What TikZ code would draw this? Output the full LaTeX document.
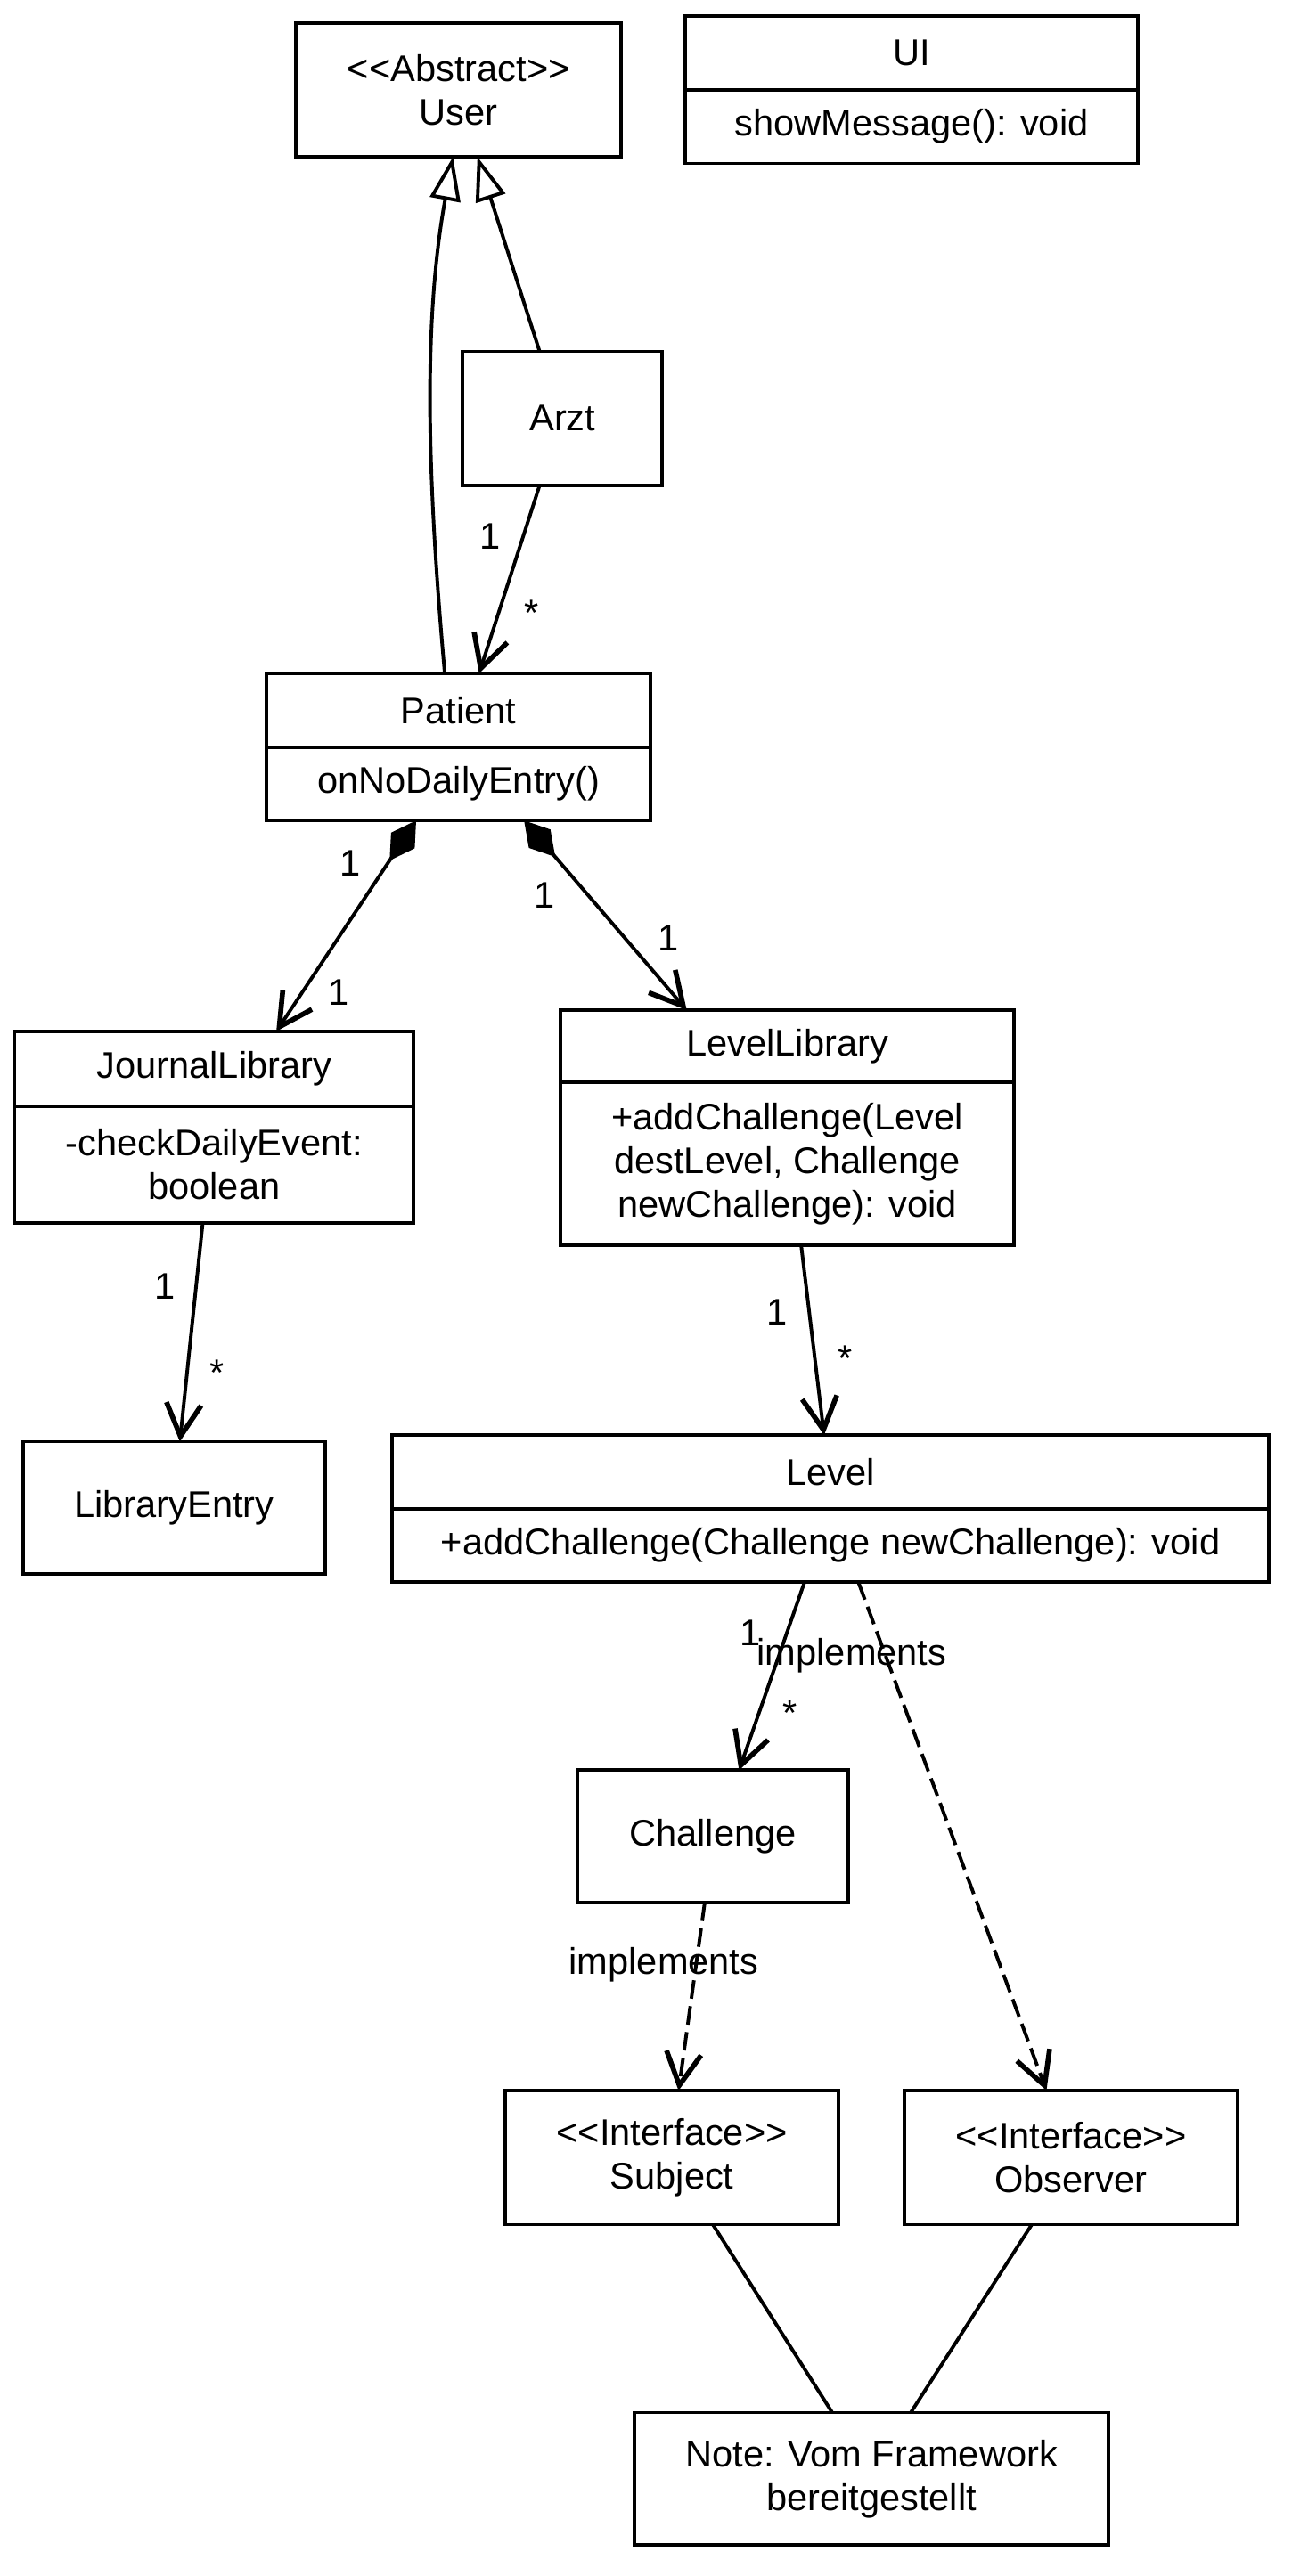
\documentclass[tikz,border=0pt]{standalone}
\usepackage{fontspec}
\setmainfont{Liberation Sans}
\usetikzlibrary{arrows.meta,positioning,calc}

\tikzset{every picture/.style={line width=1.6pt}}
\tikzset{
  umlbox/.style={draw, rectangle, inner sep=2pt, outer sep=0pt, align=center, font=\fontsize{17}{20}\selectfont},
  lbl/.style={font=\fontsize{17}{20}\selectfont, inner sep=0pt},
  assoc/.style={-{Straight Barb[length=15pt,width=16pt,line width=2.3pt]}},
  comp/.style={{Diamond[length=22pt,width=13pt]}-{Straight Barb[length=15pt,width=16pt,line width=2.3pt]}},
  inherit/.style={-{Triangle[open,length=20pt,width=14pt]}},
  realize/.style={assoc, dash pattern=on 8.5pt off 3.5pt},
}
\newcommand{\guil}[1]{\textless\kern0pt\textless #1\textgreater\kern0pt\textgreater}

\begin{document}
\begin{tikzpicture}[x=0.75pt,y=0.75pt,yscale=-1,xscale=1]
\useasboundingbox (0,0) rectangle (790,1576);

%Shape: Class User
\node[umlbox, minimum width=149.25pt, minimum height=61.5pt] (user) at (280.5,55) {\guil{Abstract}\\User};
%Shape: Class UI
\node[umlbox, minimum width=207.75pt, minimum height=33.75pt] (ui) at (557.5,32.5) {UI};
\node[umlbox, minimum width=207.75pt, minimum height=33.75pt, below=0pt of ui] (uiops) {showMessage(): void};
%Shape: Class Arzt
\node[umlbox, minimum width=91.5pt, minimum height=61.5pt] (arzt) at (344,256) {Arzt};
%Shape: Class Patient
\node[umlbox, minimum width=176.25pt, minimum height=33.75pt] (patient) at (280.5,434.5) {Patient};
\node[umlbox, minimum width=176.25pt, minimum height=33.75pt, below=0pt of patient] (patientops) {onNoDailyEntry()};
%Shape: Class JournalLibrary
\node[umlbox, minimum width=183pt, minimum height=34.5pt] (journal) at (131,654) {JournalLibrary};
\node[umlbox, minimum width=183pt, minimum height=53.25pt, below=0pt of journal] (journalops) {-checkDailyEvent:\\boolean};
%Shape: Class LevelLibrary
\node[umlbox, minimum width=207.75pt, minimum height=33pt] (levellib) at (481.5,640) {LevelLibrary};
\node[umlbox, minimum width=207.75pt, minimum height=75pt, below=0pt of levellib] (levellibops) {+addChallenge(Level\\destLevel, Challenge\\newChallenge): void};
%Shape: Class LibraryEntry
\node[umlbox, minimum width=138.75pt, minimum height=60.75pt] (entry) at (106.5,922.5) {LibraryEntry};
%Shape: Class Level
\node[umlbox, minimum width=402pt, minimum height=33.75pt] (level) at (508,900.5) {Level};
\node[umlbox, minimum width=402pt, minimum height=33.75pt, below=0pt of level] (levelops) {+addChallenge(Challenge newChallenge): void};
%Shape: Class Challenge
\node[umlbox, minimum width=124.5pt, minimum height=60.75pt] (challenge) at (436,1123.5) {Challenge};
%Shape: Interfaces
\node[umlbox, minimum width=153pt, minimum height=61.5pt] (subject) at (411,1320) {\guil{Interface}\\Subject};
\node[umlbox, minimum width=153pt, minimum height=61.5pt] (observer) at (655,1320) {\guil{Interface}\\Observer};
%Shape: Note
\node[umlbox, minimum width=217.5pt, minimum height=60.75pt] (note) at (533,1516.5) {Note: Vom Framework\\bereitgestellt};

%Generalization
\draw[inherit] ($(patient.north)+(-8.5,0)$) .. controls (262,300) and (258,200) .. ($(user.south)+(-3.5,0)$);
\draw[inherit] ($(arzt.north)+(-14,0)$) -- ($(user.south)+(11.5,0)$);
%Associations
\draw[assoc] ($(arzt.south)+(-14,0)$) -- ($(patient.north)+(12.5,0)$);
\draw[comp] ($(patientops.south)+(-26,0)$) -- ($(journal.north)+(38,0)$);
\draw[comp] ($(patientops.south)+(40,0)$) -- ($(levellib.north)+(-61.5,0)$);
\draw[assoc] ($(journalops.south)+(-7,0)$) -- ($(entry.north)+(3.5,0)$);
\draw[assoc] ($(levellibops.south)+(8.5,0)$) -- ($(level.north)+(-4,0)$);
\draw[assoc] ($(levelops.south)+(-16,0)$) -- ($(challenge.north)+(16,0)$);
%Realizations
\draw[realize] ($(levelops.south)+(17,0)$) -- ($(observer.north)+(-15,0)$);
\draw[realize] ($(challenge.south)+(-5,0)$) -- ($(subject.north)+(4,0)$);
%Note links
\draw ($(subject.south)+(25,0)$) -- ($(note.north)+(-24,0)$);
\draw ($(observer.south)+(-24,0)$) -- ($(note.north)+(24,0)$);

% Text Node
\node[lbl] (arztone) at (300,328) {1};
\node[lbl] (arztmany) at (325,375) {*};
\node[lbl] (jlone) at (214,528) {1};
\node[lbl] (jltwo) at (207,607) {1};
\node[lbl] (llone) at (333,548) {1};
\node[lbl] (lltwo) at (409,574) {1};
\node[lbl] (entryone) at (101,787) {1};
\node[lbl] (entrymany) at (133,840) {*};
\node[lbl] (levelone) at (475,803) {1};
\node[lbl] (levelmany) at (517,831) {*};
\node[lbl] (chone) at (459,999) {1};
\node[lbl] (chmany) at (483,1048) {*};
\node[lbl] (implobs) at (521,1013) {implements};
\node[lbl] (implsub) at (406,1202) {implements};

\end{tikzpicture}
\end{document}
